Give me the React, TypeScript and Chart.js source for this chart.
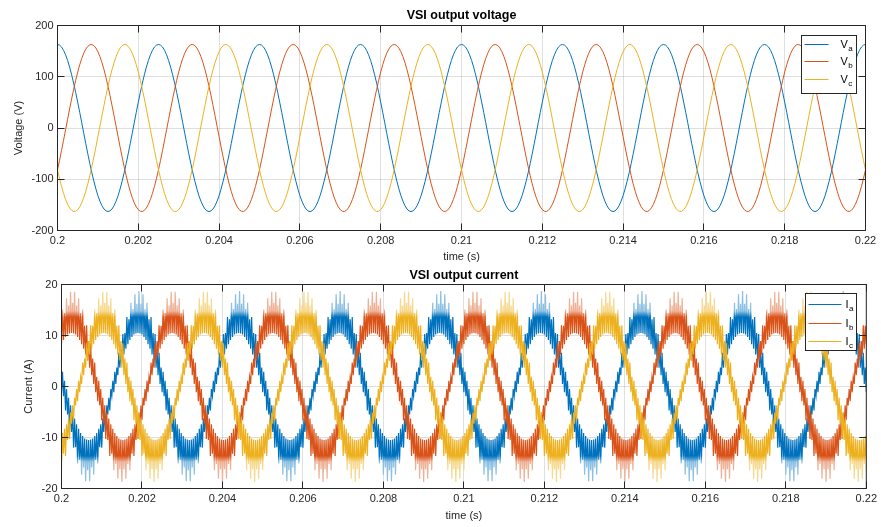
import React, { useEffect, useRef } from 'react';
import { Chart, registerables } from 'chart.js';

Chart.register(...registerables);

const FONT = '"Liberation Sans", Arial, Helvetica, sans-serif';
const AXIS_COLOR = '#262626';
const GRID_COLOR = 'rgba(38,38,38,0.15)';
const BLUE = '#0072BD';
const ORANGE = '#D95319';
const YELLOW = '#EDB120';
const BLUE_PALE = '#8CC0E2';
const ORANGE_PALE = '#EEB196';
const YELLOW_PALE = '#F6D98F';

// ---- axis ticks ----
const timeTickValues = [0.2, 0.202, 0.204, 0.206, 0.208, 0.21, 0.212, 0.214, 0.216, 0.218, 0.22];
const timeTickLabels = ['0.2', '0.202', '0.204', '0.206', '0.208', '0.21', '0.212', '0.214', '0.216', '0.218', '0.22'];
const voltageTicks = [-200, -100, 0, 100, 200];
const currentTicks = [-20, -10, 0, 10, 20];

// ---- time base: one fundamental period (2.5 ms) sampled 50 times, repeated over 0.2..0.22 s ----
const T_START = 0.2;
const PERIOD = 0.0025;
const PERIOD_COUNT = 8;
const SAMPLES = 50;

// ---- voltages (V), one period from t = 0.2 s ----
const va = [163.0, 161.7, 158.0, 151.6, 142.8, 131.9, 118.8, 103.8, 87.4, 69.4, 50.4, 30.5, 10.3, -10.3, -30.5, -50.4, -69.4, -87.4, -103.8, -118.8, -131.9, -142.8, -151.6, -158.0, -161.7, -163.0, -161.7, -158.0, -151.6, -142.8, -131.9, -118.8, -103.8, -87.4, -69.4, -50.4, -30.5, -10.3, 10.3, 30.5, 50.4, 69.4, 87.4, 103.8, 118.8, 131.9, 142.8, 151.6, 158.0, 161.7];
const vb = [-81.5, -63.2, -43.8, -23.8, -3.4, 17.0, 37.2, 56.8, 75.5, 93.0, 109.1, 123.4, 135.8, 146.0, 153.9, 159.4, 162.4, 162.9, 160.7, 156.0, 148.9, 139.4, 127.7, 114.1, 98.5, 81.5, 63.2, 43.8, 23.8, 3.4, -17.0, -37.2, -56.8, -75.5, -93.0, -109.1, -123.4, -135.8, -146.0, -153.9, -159.4, -162.4, -162.9, -160.7, -156.0, -148.9, -139.4, -127.7, -114.1, -98.5];
const vc = [-81.5, -98.5, -114.1, -127.7, -139.4, -148.9, -156.0, -160.7, -162.9, -162.4, -159.4, -153.9, -146.0, -135.8, -123.4, -109.1, -93.0, -75.5, -56.8, -37.2, -17.0, 3.4, 23.8, 43.8, 63.2, 81.5, 98.5, 114.1, 127.7, 139.4, 148.9, 156.0, 160.7, 162.9, 162.4, 159.4, 153.9, 146.0, 135.8, 123.4, 109.1, 93.0, 75.5, 56.8, 37.2, 17.0, -3.4, -23.8, -43.8, -63.2];

// ---- currents (A): lower / upper extreme of each switching cycle, one period from t = 0.2 s ----
const iaLow = [-1.1, -1.9, -4.7, -5.5, -8.5, -8.9, -12.0, -11.9, -15.1, -14.4, -17.3, -15.9, -18.6, -16.4, -18.6, -15.9, -17.3, -14.4, -15.1, -11.9, -12.0, -8.9, -8.5, -5.5, -4.7, -1.9, -1.1, 0.5, 2.2, 3.7, 5.1, 6.3, 7.4, 8.3, 9.1, 9.7, 10.2, 10.4, 10.5, 10.4, 10.2, 9.7, 9.1, 8.3, 7.4, 6.3, 5.1, 3.7, 2.2, 0.5];
const iaHigh = [2.9, 1.1, -0.5, -2.2, -3.7, -5.1, -6.3, -7.4, -8.3, -9.1, -9.7, -10.2, -10.4, -10.5, -10.4, -10.2, -9.7, -9.1, -8.3, -7.4, -6.3, -5.1, -3.7, -2.2, -0.5, 1.1, 2.9, 3.7, 6.6, 7.3, 10.3, 10.5, 13.6, 13.2, 16.4, 15.2, 18.1, 16.2, 18.7, 16.2, 18.1, 15.2, 16.4, 13.2, 13.6, 10.5, 10.3, 7.3, 6.6, 3.7];
const ibLow = [8.3, 9.1, 9.7, 10.2, 10.4, 10.5, 10.4, 10.2, 9.7, 9.1, 8.3, 7.4, 6.3, 5.1, 3.7, 2.2, 0.5, -1.1, -2.9, -3.7, -6.6, -7.3, -10.3, -10.5, -13.6, -13.2, -16.4, -15.2, -18.1, -16.2, -18.7, -16.2, -18.1, -15.2, -16.4, -13.2, -13.6, -10.5, -10.3, -7.3, -6.6, -3.7, -2.9, -1.1, 0.5, 2.2, 3.7, 5.1, 6.3, 7.4];
const ibHigh = [15.1, 14.4, 17.3, 15.9, 18.6, 16.4, 18.6, 15.9, 17.3, 14.4, 15.1, 11.9, 12.0, 8.9, 8.5, 5.5, 4.7, 1.9, 1.1, -0.5, -2.2, -3.7, -5.1, -6.3, -7.4, -8.3, -9.1, -9.7, -10.2, -10.4, -10.5, -10.4, -10.2, -9.7, -9.1, -8.3, -7.4, -6.3, -5.1, -3.7, -2.2, -0.5, 1.1, 1.9, 4.7, 5.5, 8.5, 8.9, 12.0, 11.9];
const icLow = [-16.4, -13.2, -13.6, -10.5, -10.3, -7.3, -6.6, -3.7, -2.9, -1.1, 0.5, 2.2, 3.7, 5.1, 6.3, 7.4, 8.3, 9.1, 9.7, 10.2, 10.4, 10.5, 10.4, 10.2, 9.7, 9.1, 8.3, 7.4, 6.3, 5.1, 3.7, 2.2, 0.5, -1.1, -2.9, -3.7, -6.6, -7.3, -10.3, -10.5, -13.6, -13.2, -16.4, -15.2, -18.1, -16.2, -18.7, -16.2, -18.1, -15.2];
const icHigh = [-9.1, -8.3, -7.4, -6.3, -5.1, -3.7, -2.2, -0.5, 1.1, 1.9, 4.7, 5.5, 8.5, 8.9, 12.0, 11.9, 15.1, 14.4, 17.3, 15.9, 18.6, 16.4, 18.6, 15.9, 17.3, 14.4, 15.1, 11.9, 12.0, 8.9, 8.5, 5.5, 4.7, 1.9, 1.1, -0.5, -2.2, -3.7, -5.1, -6.3, -7.4, -8.3, -9.1, -9.7, -10.2, -10.4, -10.5, -10.4, -10.2, -9.7];

const voltageNames = [['V', 'a'], ['V', 'b'], ['V', 'c']];
const currentNames = [['I', 'a'], ['I', 'b'], ['I', 'c']];
const seriesColors = [BLUE, ORANGE, YELLOW];

// current band shading: spikes beyond this magnitude are drawn in the pale tint
const PALE_FROM = 14;

type Pt = { x: number; y: number };

function periodicPoints(vals: number[]) {
  const dt = PERIOD / SAMPLES;
  const pts: Pt[] = [];
  for (let p = 0; p < PERIOD_COUNT; p++) {
    for (let k = 0; k < SAMPLES; k++) {
      pts.push({ x: T_START + p * PERIOD + k * dt, y: vals[k] });
    }
  }
  pts.push({ x: T_START + PERIOD_COUNT * PERIOD, y: vals[0] });
  return pts;
}

function ripplePoints(low: number[], high: number[]) {
  const dt = PERIOD / SAMPLES;
  const pts: Pt[] = [];
  for (let p = 0; p < PERIOD_COUNT; p++) {
    for (let k = 0; k < SAMPLES; k++) {
      const t = T_START + p * PERIOD + k * dt;
      pts.push({ x: t, y: low[k] });
      pts.push({ x: t + dt / 2, y: high[k] });
    }
  }
  pts.push({ x: T_START + PERIOD_COUNT * PERIOD, y: low[0] });
  return pts;
}

const matlabAxes = {
  id: 'matlabAxes',
  afterDatasetsDraw(chart: any, _args: any, o: any) {
    const { ctx, chartArea } = chart;
    const { left, right, top, bottom } = chartArea;
    const xs = chart.scales.x;
    const ys = chart.scales.y;
    const snap = (v: number) => Math.round(v - 0.5) + 0.5;
    ctx.save();
    ctx.strokeStyle = AXIS_COLOR;
    ctx.lineWidth = 1;
    const TL = 7;
    ctx.beginPath();
    for (const v of o.xTicks) {
      const px = snap(xs.getPixelForValue(v));
      ctx.moveTo(px, bottom);
      ctx.lineTo(px, bottom - TL);
      ctx.moveTo(px, top);
      ctx.lineTo(px, top + TL);
    }
    for (const v of o.yTicks) {
      const py = snap(ys.getPixelForValue(v));
      ctx.moveTo(left, py);
      ctx.lineTo(left + TL, py);
      ctx.moveTo(right, py);
      ctx.lineTo(right - TL, py);
    }
    ctx.stroke();
    ctx.strokeRect(left, top, right - left, bottom - top);

    ctx.fillStyle = '#000';
    ctx.textAlign = 'center';
    ctx.textBaseline = 'middle';
    ctx.font = `bold 12.5px ${FONT}`;
    ctx.fillText(o.title, (left + right) / 2, o.titleY);
    ctx.fillStyle = AXIS_COLOR;
    ctx.font = `11px ${FONT}`;
    ctx.fillText(o.xLabel, (left + right) / 2, bottom + o.xLabelGap);
    ctx.save();
    ctx.translate(o.yLabelX, (top + bottom) / 2);
    ctx.rotate(-Math.PI / 2);
    ctx.fillText(o.yLabel, 0, 0);
    ctx.restore();

    const L = o.legend;
    const bx = snap(right - L.right - L.w);
    const by = snap(top + L.top);
    ctx.fillStyle = '#fff';
    ctx.fillRect(bx, by, L.w, L.h);
    ctx.strokeStyle = AXIS_COLOR;
    ctx.strokeRect(bx, by, L.w, L.h);
    L.names.forEach((nm: string[], i: number) => {
      const y = Math.round(by + L.rows[i]) + 0.5;
      ctx.strokeStyle = seriesColors[i];
      ctx.lineWidth = 1;
      ctx.beginPath();
      ctx.moveTo(bx + L.x0, y);
      ctx.lineTo(bx + L.x1, y);
      ctx.stroke();
      ctx.fillStyle = '#000';
      ctx.textAlign = 'left';
      ctx.textBaseline = 'middle';
      ctx.font = `11px ${FONT}`;
      const [base, sub] = nm;
      ctx.fillText(base, bx + L.tx, y);
      const w = ctx.measureText(base).width;
      ctx.font = `8px ${FONT}`;
      ctx.fillText(sub, bx + L.tx + w + 0.5, y + 4);
    });
    ctx.restore();
  },
};

function makeConfig(opts: {
  datasets: any[];
  yTicks: number[];
  yMin: number;
  yMax: number;
  height: number;
  areaTop: number;
  areaBottom: number;
  areaLeft: number;
  areaRight: number;
  frame: any;
}): any {
  const tickFont = { family: FONT, size: 11 };
  return {
    type: 'line',
    data: { datasets: opts.datasets },
    plugins: [matlabAxes],
    options: {
      animation: false,
      responsive: false,
      events: [],
      parsing: false,
      normalized: true,
      layout: { padding: { left: 0, top: opts.areaTop, right: 881 - opts.areaRight, bottom: 0 } },
      elements: { point: { radius: 0 }, line: { tension: 0 } },
      plugins: {
        legend: { display: false },
        tooltip: { enabled: false },
        title: { display: false },
        matlabAxes: { ...opts.frame, xTicks: timeTickValues, yTicks: opts.yTicks },
      },
      scales: {
        x: {
          type: 'linear',
          min: T_START,
          max: T_START + PERIOD_COUNT * PERIOD,
          afterFit: (s: any) => {
            s.height = opts.height - opts.areaBottom;
          },
          afterBuildTicks: (s: any) => {
            s.ticks = timeTickValues.map((v) => ({ value: v }));
          },
          ticks: {
            autoSkip: false,
            maxRotation: 0,
            padding: 4,
            color: AXIS_COLOR,
            font: tickFont,
            callback: (_v: any, i: number) => timeTickLabels[i],
          },
          grid: { color: GRID_COLOR, drawTicks: false, lineWidth: 1 },
          border: { display: false },
        },
        y: {
          type: 'linear',
          min: opts.yMin,
          max: opts.yMax,
          afterFit: (s: any) => {
            s.width = opts.areaLeft;
          },
          afterBuildTicks: (s: any) => {
            s.ticks = opts.yTicks.map((v) => ({ value: v }));
          },
          ticks: {
            autoSkip: false,
            padding: 4,
            color: AXIS_COLOR,
            font: tickFont,
            callback: (v: any) => String(v),
          },
          grid: { color: GRID_COLOR, drawTicks: false, lineWidth: 1 },
          border: { display: false },
        },
      },
    },
  };
}

export default function App() {
  const topRef = useRef<HTMLCanvasElement>(null);
  const botRef = useRef<HTMLCanvasElement>(null);

  useEffect(() => {
    const line = (label: string, color: any, data: any[], order: number, width = 1) => ({
      label,
      data,
      borderColor: color,
      backgroundColor: color,
      borderWidth: width,
      pointRadius: 0,
      order,
    });
    // vertical gradient: saturated colour in the dense core, pale tint on the outer spikes
    const bandColor = (color: string, pale: string) => (c: any) => {
      const chart = c.chart;
      if (!chart.chartArea) return color;
      const y = chart.scales.y;
      const p0 = y.getPixelForValue(20);
      const p1 = y.getPixelForValue(-20);
      const g = chart.ctx.createLinearGradient(0, p0, 0, p1);
      const f = (v: number) => (20 - v) / 40;
      g.addColorStop(0, pale);
      g.addColorStop(f(PALE_FROM + 0.8), pale);
      g.addColorStop(f(PALE_FROM - 0.4), color);
      g.addColorStop(f(-PALE_FROM + 0.4), color);
      g.addColorStop(f(-PALE_FROM - 0.8), pale);
      g.addColorStop(1, pale);
      return g;
    };

    const c1 = new Chart(
      topRef.current as HTMLCanvasElement,
      makeConfig({
        datasets: [
          line('Va', BLUE, periodicPoints(va), 3),
          line('Vb', ORANGE, periodicPoints(vb), 2),
          line('Vc', YELLOW, periodicPoints(vc), 1),
        ],
        yTicks: voltageTicks,
        yMin: -200,
        yMax: 200,
        height: 270,
        areaTop: 25.5,
        areaBottom: 230.5,
        areaLeft: 57.5,
        areaRight: 865.5,
        frame: {
          title: 'VSI output voltage',
          titleY: 15.5,
          xLabel: 'time (s)',
          xLabelGap: 26,
          yLabel: 'Voltage (V)',
          yLabelX: 19,
          legend: { right: 9.5, top: 9.5, w: 55, h: 58, rows: [8.3, 25.9, 43.7], x0: 3, x1: 27, tx: 39, names: voltageNames },
        },
      })
    );

    const c2 = new Chart(
      botRef.current as HTMLCanvasElement,
      makeConfig({
        datasets: [
          line('Ia', bandColor(BLUE, BLUE_PALE), ripplePoints(iaLow, iaHigh), 3, 1.2),
          line('Ib', bandColor(ORANGE, ORANGE_PALE), ripplePoints(ibLow, ibHigh), 2, 1.2),
          line('Ic', bandColor(YELLOW, YELLOW_PALE), ripplePoints(icLow, icHigh), 1, 1.2),
        ],
        yTicks: currentTicks,
        yMin: -20,
        yMax: 20,
        height: 269,
        areaTop: 26.5,
        areaBottom: 230.5,
        areaLeft: 61.5,
        areaRight: 867.5,
        frame: {
          title: 'VSI output current',
          titleY: 18,
          xLabel: 'time (s)',
          xLabelGap: 27,
          yLabel: 'Current (A)',
          yLabelX: 29,
          legend: { right: 9.5, top: 8.5, w: 51, h: 57, rows: [10, 29, 47.4], x0: 3, x1: 36, tx: 40, names: currentNames },
        },
      })
    );

    return () => {
      c1.destroy();
      c2.destroy();
    };
  }, []);

  return (
    <div style={{ position: 'absolute', left: 0, top: 0, width: 881, height: 527, background: '#fff' }}>
      <canvas ref={topRef} width={881} height={270} style={{ position: 'absolute', left: 0, top: 0 }} />
      <canvas ref={botRef} width={881} height={269} style={{ position: 'absolute', left: 0, top: 258 }} />
    </div>
  );
}
